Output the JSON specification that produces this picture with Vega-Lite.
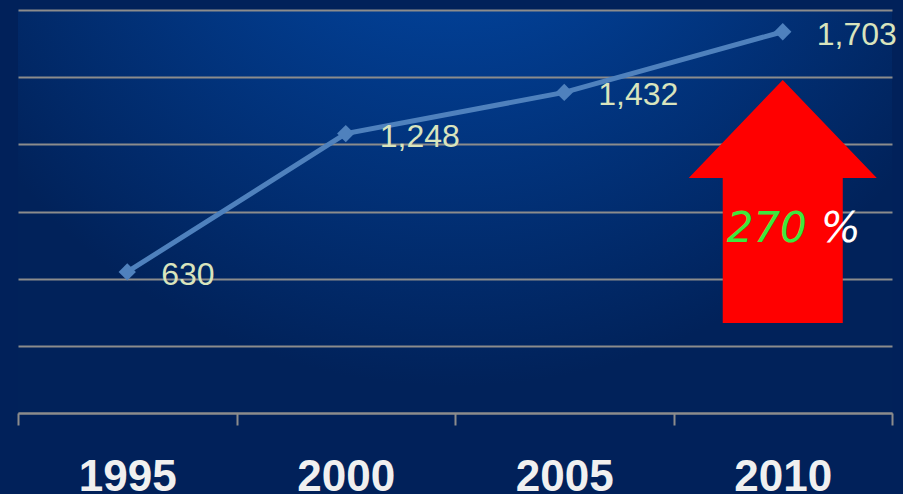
{
  "$schema": "https://vega.github.io/schema/vega-lite/v6.json",
  "width": 874,
  "height": 403,
  "autosize": "none",
  "padding": {"left": 18, "top": 10, "right": 11, "bottom": 81},
  "background": "#01215a",
  "config": {
    "font": "Liberation Sans",
    "view": {
      "stroke": null,
      "fill": {
        "gradient": "radial",
        "x1": 0.5, "y1": 0.05, "r1": 0,
        "x2": 0.5, "y2": 0.05, "r2": 0.65,
        "stops": [
          {"offset": 0, "color": "#024db0"},
          {"offset": 1, "color": "#01225a"}
        ]
      }
    }
  },
  "datasets": {
    "series": [
      {"year": "1995", "value": 630},
      {"year": "2000", "value": 1248},
      {"year": "2005", "value": 1432},
      {"year": "2010", "value": 1703}
    ],
    "arrow": [{"year": "2010", "value": 945}],
    "noteNum": [{"year": "2010", "value": 820, "label": "270"}],
    "notePct": [{"year": "2010", "value": 820, "label": "%"}]
  },
  "layer": [
    {
      "data": {"name": "series"},
      "mark": {"type": "line", "color": "#4f81bd", "strokeWidth": 5},
      "encoding": {
        "x": {
          "field": "year", "type": "ordinal",
          "scale": {"paddingInner": 0, "paddingOuter": 0},
          "axis": {
            "title": null,
            "tickBand": "extent",
            "domainColor": "#8c8c8c",
            "domainWidth": 2,
            "tickColor": "#8c8c8c",
            "tickWidth": 2,
            "tickSize": 12,
            "labelAngle": 0,
            "labelFontSize": 44,
            "labelFontWeight": "bold",
            "labelColor": "#f0f0f0",
            "labelBaseline": "alphabetic",
            "labelPadding": 65,
            "grid": false
          }
        },
        "y": {
          "field": "value", "type": "quantitative",
          "scale": {"domain": [0, 1800], "nice": false, "zero": true},
          "axis": {
            "title": null,
            "values": [0, 300, 600, 900, 1200, 1500, 1800],
            "labels": false,
            "ticks": false,
            "domain": false,
            "grid": true,
            "gridColor": "#8c8c8c",
            "gridWidth": 2,
            "gridOpacity": 1
          }
        }
      }
    },
    {
      "data": {"name": "series"},
      "mark": {"type": "point", "shape": "diamond", "filled": true, "size": 300, "color": "#4f81bd", "opacity": 1},
      "encoding": {
        "x": {"field": "year", "type": "ordinal"},
        "y": {"field": "value", "type": "quantitative"}
      }
    },
    {
      "data": {"name": "series"},
      "mark": {"type": "text", "align": "left", "baseline": "middle", "dx": 34, "dy": 3, "fontSize": 32, "color": "#d9e4bd"},
      "encoding": {
        "x": {"field": "year", "type": "ordinal"},
        "y": {"field": "value", "type": "quantitative"},
        "text": {"field": "value", "type": "quantitative", "format": ","}
      }
    },
    {
      "data": {"name": "arrow"},
      "mark": {
        "type": "point",
        "filled": true,
        "opacity": 1,
        "color": "#ff0000",
        "strokeWidth": 0,
        "size": 59049,
        "shape": "M0,-1L0.774,-0.193L0.494,-0.193L0.494,1L-0.494,1L-0.494,-0.193L-0.774,-0.193Z"
      },
      "encoding": {
        "x": {"field": "year", "type": "ordinal"},
        "y": {"field": "value", "type": "quantitative"}
      }
    },
    {
      "data": {"name": "noteNum"},
      "mark": {"type": "text", "font": "DejaVu Sans", "fontStyle": "italic", "fontSize": 42, "color": "#3de83d", "align": "center", "baseline": "middle", "dx": -16},
      "encoding": {
        "x": {"field": "year", "type": "ordinal"},
        "y": {"field": "value", "type": "quantitative"},
        "text": {"field": "label"}
      }
    },
    {
      "data": {"name": "notePct"},
      "mark": {"type": "text", "font": "DejaVu Sans", "fontStyle": "italic", "fontSize": 42, "color": "#ffffff", "align": "center", "baseline": "middle", "dx": 58},
      "encoding": {
        "x": {"field": "year", "type": "ordinal"},
        "y": {"field": "value", "type": "quantitative"},
        "text": {"field": "label"}
      }
    }
  ]
}
